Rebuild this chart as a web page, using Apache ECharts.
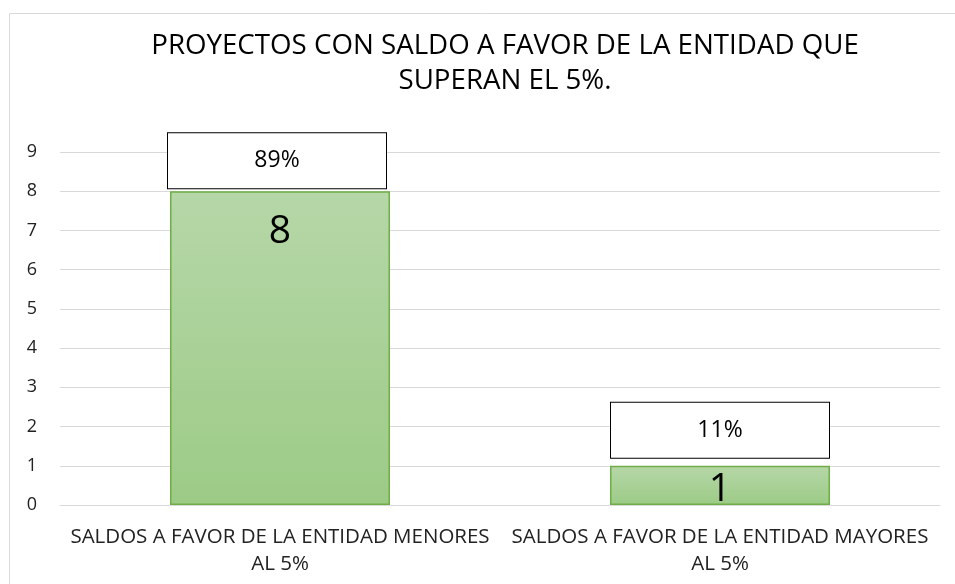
<!DOCTYPE html>
<html>
<head>
<meta charset="utf-8">
<script src="https://cdn.jsdelivr.net/npm/echarts@6/dist/echarts.min.js"></script>
<style>
  html, body { margin: 0; padding: 0; background: #fff; }
  #chart { width: 955px; height: 584px; }
</style>
</head>
<body>
<div id="chart"></div>
<script>
const categories = ['SALDOS A FAVOR DE LA ENTIDAD MENORES AL 5%', 'SALDOS A FAVOR DE LA ENTIDAD MAYORES AL 5%'];
const values = [8, 1];
const percents = ['89%', '11%'];
const yTicks = [0, 1, 2, 3, 4, 5, 6, 7, 8, 9];

const font = '"Open Sans", "Noto Sans", sans-serif';
const chart = echarts.init(document.getElementById('chart'));

// Excel pushes the value label up when the bar is short
const innerDist = [21, 5];
const boxDist = [3, 8];
const boxShift = [-3, 0];

chart.setOption({
  backgroundColor: '#fff',
  animation: false,
  textStyle: { fontFamily: font },
  graphic: [{
    type: 'rect',
    shape: { x: 9.5, y: 13.5, width: 1000, height: 600 },
    style: { fill: 'none', stroke: '#d9d9d9', lineWidth: 1 },
    silent: true
  }],
  title: {
    text: 'PROYECTOS CON SALDO A FAVOR DE LA ENTIDAD QUE\nSUPERAN EL 5%.',
    left: 500,
    textAlign: 'center',
    top: 24,
    textStyle: {
      fontFamily: font,
      fontWeight: 'normal',
      fontSize: 27.7,
      color: '#000',
      lineHeight: 35
    }
  },
  grid: { left: 60, right: 15, top: 152, bottom: 79 },
  xAxis: {
    type: 'category',
    data: categories,
    axisLine: { lineStyle: { color: '#d9d9d9' } },
    axisTick: { show: false },
    axisLabel: {
      color: '#222',
      fontSize: 20.5,
      lineHeight: 27,
      margin: 19,
      interval: 0,
      formatter: v => v.replace(' AL ', '\nAL ')
    }
  },
  yAxis: {
    type: 'value',
    min: yTicks[0],
    max: yTicks[yTicks.length - 1],
    interval: 1,
    axisLine: { show: false },
    axisTick: { show: false },
    splitLine: { lineStyle: { color: '#d9d9d9' } },
    axisLabel: { color: '#222', fontSize: 18, margin: 23 }
  },
  series: [
    {
      type: 'bar',
      data: values.map((v, i) => ({ value: v, label: { distance: innerDist[i] } })),
      barWidth: '50%',
      z: 2,
      itemStyle: {
        color: new echarts.graphic.LinearGradient(0, 0, 0, 1, [
          { offset: 0, color: '#b6d7a8' },
          { offset: 1, color: '#9ccb86' }
        ]),
        borderColor: '#70ad47',
        borderWidth: 1.5
      },
      label: {
        show: true,
        position: 'insideTop',
        fontSize: 39,
        color: '#000',
        fontFamily: font
      }
    },
    {
      type: 'bar',
      data: values.map((v, i) => ({ value: v, label: { distance: boxDist[i], offset: [boxShift[i], 0] } })),
      barWidth: '50%',
      barGap: '-100%',
      z: 3,
      itemStyle: { color: 'transparent' },
      label: {
        show: true,
        position: 'top',
        formatter: p => percents[p.dataIndex],
        width: 218,
        height: 55,
        lineHeight: 55,
        align: 'center',
        backgroundColor: '#fff',
        borderColor: '#000',
        borderWidth: 1,
        fontSize: 23,
        color: '#000',
        fontFamily: font
      }
    }
  ]
});
</script>
</body>
</html>
